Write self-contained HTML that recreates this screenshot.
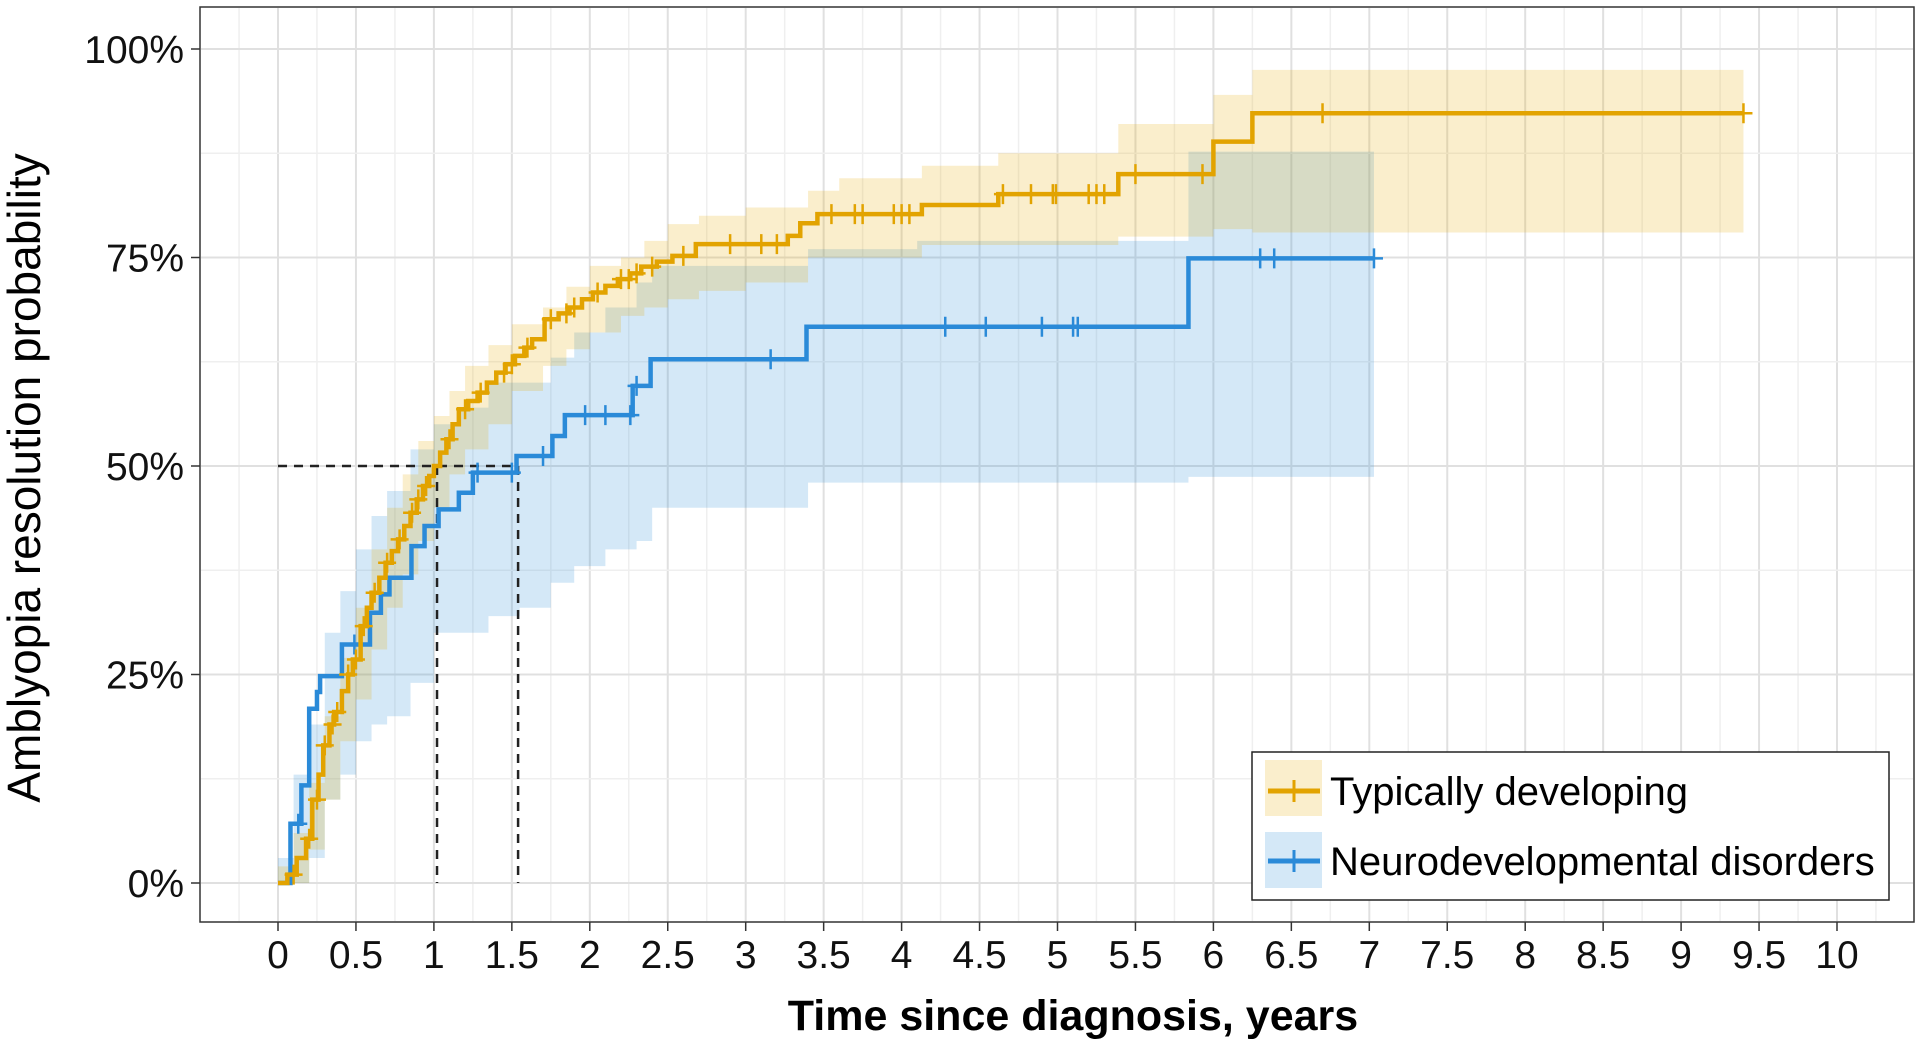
<!DOCTYPE html>
<html><head><meta charset="utf-8">
<style>
html,body{margin:0;padding:0;background:#fff;}
svg{display:block;font-family:"Liberation Sans",Arial,sans-serif;}
</style></head>
<body>
<svg id="chart" width="1920" height="1044" viewBox="0 0 1920 1044" xmlns="http://www.w3.org/2000/svg">
  <rect x="0" y="0" width="1920" height="1044" fill="#fff"/>
  <g id="grid"></g>
  <g id="bands"></g>
  <g id="refs"></g>
  <g id="lines"></g>
  <rect x="200" y="7" width="1714" height="915" fill="none" stroke="#333" stroke-width="1.5"/>
  <g id="axes"></g>
  <text transform="translate(40,478) rotate(-90)" text-anchor="middle" font-size="46" fill="#000">Amblyopia resolution probability</text>
  <text x="1073" y="1030" text-anchor="middle" font-size="43" font-weight="bold" fill="#000">Time since diagnosis, years</text>
  <g id="legend">
    <rect x="1252" y="752" width="637" height="148" fill="#fff" stroke="#222" stroke-width="1.5"/>
    <g>
      <rect x="1265" y="760" width="57" height="56" fill="#E7A800" fill-opacity="0.2"/>
      <line x1="1268" y1="791" x2="1320" y2="791" stroke="#E2A300" stroke-width="5"/>
      <line x1="1294" y1="780" x2="1294" y2="802" stroke="#E2A300" stroke-width="3"/>
      <text x="1330" y="805" font-size="40" fill="#000">Typically developing</text>
    </g>
    <g>
      <rect x="1265" y="832" width="57" height="56" fill="#2A8AD8" fill-opacity="0.2"/>
      <line x1="1268" y1="861" x2="1320" y2="861" stroke="#2A8AD8" stroke-width="5"/>
      <line x1="1294" y1="850" x2="1294" y2="872" stroke="#2A8AD8" stroke-width="3"/>
      <text x="1330" y="875" font-size="40" fill="#000">Neurodevelopmental disorders</text>
    </g>
  </g>
</svg>
<script>
// ---- data ----
const xTicks = [0,0.5,1,1.5,2,2.5,3,3.5,4,4.5,5,5.5,6,6.5,7,7.5,8,8.5,9,9.5,10];
const xTickLabels = ["0","0.5","1","1.5","2","2.5","3","3.5","4","4.5","5","5.5","6","6.5","7","7.5","8","8.5","9","9.5","10"];
const yTicks = [0,0.25,0.5,0.75,1];
const yTickLabels = ["0%","25%","50%","75%","100%"];

// Typically developing: step times and levels
const tdTimes = [0,0.06,0.12,0.18,0.22,0.26,0.29,0.33,0.36,0.41,0.45,0.48,0.53,0.57,0.6,0.65,0.69,0.73,0.77,0.81,0.85,0.89,0.93,0.97,1.0,1.04,1.08,1.12,1.16,1.22,1.28,1.34,1.4,1.46,1.52,1.58,1.63,1.71,1.8,1.87,1.95,2.02,2.1,2.18,2.26,2.33,2.43,2.53,2.68,3.27,3.35,3.46,4.13,4.62,5.39,6.0,6.25,9.4];
const tdSurv  = [0,0.01,0.03,0.053,0.1,0.13,0.165,0.19,0.205,0.23,0.25,0.268,0.308,0.33,0.348,0.366,0.384,0.398,0.412,0.428,0.444,0.46,0.476,0.488,0.5,0.516,0.532,0.55,0.568,0.578,0.588,0.6,0.612,0.622,0.632,0.642,0.652,0.676,0.683,0.69,0.7,0.708,0.716,0.724,0.731,0.739,0.745,0.752,0.766,0.776,0.791,0.802,0.813,0.826,0.85,0.889,0.923,0.923];
const tdCensor = [0.1,0.2,0.25,0.3,0.35,0.38,0.45,0.5,0.55,0.62,0.7,0.78,0.86,0.9,0.95,1.1,1.2,1.3,1.45,1.5,1.6,1.75,1.85,1.9,2.05,2.2,2.25,2.3,2.4,2.6,2.9,3.1,3.2,3.55,3.7,3.75,3.95,4.0,4.05,4.65,4.83,4.97,4.99,5.2,5.25,5.3,5.5,5.93,6.7,9.4];
const tdBandT  = [0,0.1,0.2,0.3,0.4,0.5,0.6,0.7,0.8,0.9,1.0,1.1,1.2,1.35,1.5,1.7,1.85,2.0,2.2,2.35,2.5,2.7,3.0,3.4,3.6,4.13,4.62,5.39,6.0,6.25,9.4];
const tdBandHi = [0.02,0.06,0.12,0.2,0.27,0.33,0.4,0.45,0.49,0.53,0.56,0.59,0.62,0.645,0.67,0.69,0.715,0.74,0.75,0.77,0.79,0.8,0.81,0.83,0.845,0.86,0.875,0.91,0.945,0.975,0.975];
const tdBandLo = [0,0.0,0.04,0.1,0.17,0.22,0.28,0.33,0.37,0.41,0.45,0.49,0.52,0.55,0.59,0.62,0.64,0.66,0.68,0.69,0.7,0.71,0.72,0.75,0.75,0.765,0.765,0.775,0.784,0.78,0.78];

// Neurodevelopmental disorders
const ndTimes = [0,0.08,0.15,0.2,0.25,0.27,0.34,0.41,0.59,0.66,0.715,0.856,0.94,1.03,1.16,1.25,1.53,1.76,1.84,2.275,2.39,3.39,5.84,7.03];
const ndSurv  = [0,0.071,0.117,0.209,0.229,0.248,0.248,0.286,0.324,0.346,0.366,0.404,0.428,0.448,0.468,0.492,0.512,0.536,0.561,0.596,0.628,0.667,0.749,0.749];
const ndCensor = [0.13,0.49,1.28,1.5,1.7,1.97,2.1,2.26,2.3,3.16,4.28,4.54,4.9,5.1,5.13,6.3,6.39,7.03];
const ndBandT  = [0,0.1,0.2,0.3,0.4,0.5,0.6,0.7,0.85,1.0,1.15,1.35,1.55,1.75,1.9,2.1,2.3,2.4,3.4,4.1,5.84,7.03];
const ndBandHi = [0.03,0.13,0.19,0.3,0.35,0.4,0.44,0.47,0.52,0.55,0.57,0.6,0.6,0.63,0.66,0.69,0.72,0.74,0.76,0.77,0.877,0.877];
const ndBandLo = [0,0.0,0.03,0.1,0.13,0.17,0.19,0.2,0.24,0.3,0.3,0.32,0.33,0.36,0.38,0.4,0.41,0.45,0.48,0.48,0.487,0.487];

const medianTD = 1.02, medianND = 1.54;

// ---- scales ----
const X0=278, XS=155.9, Y0=883, YS=834;
function sx(t){return X0+XS*t;}
function sy(p){return Y0-YS*p;}
const NS="http://www.w3.org/2000/svg";
function mk(tag,attrs,parent){const e=document.createElementNS(NS,tag);for(const k in attrs)e.setAttribute(k,attrs[k]);parent.appendChild(e);return e;}

// grid
const grid=document.getElementById('grid');
for(let i=-2;i<=42;i++){const t=i*0.25;const x=sx(t);if(x<201||x>1913)continue;
  const major=(i%2===0);
  const l=mk('line',{x1:x,x2:x,y1:8,y2:921,stroke:major?'#e0e0e0':'#efefef','stroke-width':major?2:1.5},grid);
  
  }
for(let i=-1;i<=8;i++){const p=i*0.125;const y=sy(p);if(y<8||y>921)continue;
  const major=(i%2===0);
  const l=mk('line',{x1:201,x2:1913,y1:y,y2:y,stroke:major?'#e0e0e0':'#efefef','stroke-width':major?2:1.5},grid);
  
  }

// bands
function bandPath(T,H,L){let d='M'+sx(T[0])+','+sy(H[0]);
  for(let i=1;i<T.length;i++){d+=' L'+sx(T[i])+','+sy(H[i-1])+' L'+sx(T[i])+','+sy(H[i]);}
  const n=T.length-1;d+=' L'+sx(T[n])+','+sy(L[n]);
  for(let i=n;i>=1;i--){d+=' L'+sx(T[i])+','+sy(L[i-1])+' L'+sx(T[i-1])+','+sy(L[i-1]);}
  return d+'Z';}
const bands=document.getElementById('bands');
const b1=mk('path',{d:bandPath(ndBandT,ndBandHi,ndBandLo),fill:'#2A8AD8','fill-opacity':0.2},bands);


const b2=mk('path',{d:bandPath(tdBandT,tdBandHi,tdBandLo),fill:'#E7A800','fill-opacity':0.2},bands);



// reference lines
const refs=document.getElementById('refs');
const r1=mk('line',{x1:sx(0),x2:sx(medianND),y1:sy(0.5),y2:sy(0.5),stroke:'#222','stroke-width':2.5,'stroke-dasharray':'9,7'},refs);


const r2=mk('line',{x1:sx(medianTD),x2:sx(medianTD),y1:sy(0.5),y2:sy(0),stroke:'#222','stroke-width':2.5,'stroke-dasharray':'9,7'},refs);


const r3=mk('line',{x1:sx(medianND),x2:sx(medianND),y1:sy(0.5),y2:sy(0),stroke:'#222','stroke-width':2.5,'stroke-dasharray':'9,7'},refs);



// curves
function stepPath(T,S){let d='M'+sx(T[0])+','+sy(S[0]);
  for(let i=1;i<T.length;i++){d+=' L'+sx(T[i])+','+sy(S[i-1])+' L'+sx(T[i])+','+sy(S[i]);}return d;}
function levelAt(T,S,t){let v=S[0];for(let i=0;i<T.length;i++){if(T[i]<=t)v=S[i];}return v;}
const lines=document.getElementById('lines');
function drawSeries(T,S,C,color,name){
  const p=mk('path',{d:stepPath(T,S),fill:'none',stroke:color,'stroke-width':4.5,'stroke-linejoin':'miter'},lines);
  
  
  C.forEach(t=>{const y=sy(levelAt(T,S,t));const x=sx(t);
    const m=mk('path',{d:'M'+(x-9)+','+y+' H'+(x+9)+' M'+x+','+(y-10)+' V'+(y+10),stroke:color,'stroke-width':2.5},lines);
    
    });
}
drawSeries(ndTimes,ndSurv,ndCensor,'#2A8AD8','nd');
drawSeries(tdTimes,tdSurv,tdCensor,'#E2A300','td');

// axes
const axes=document.getElementById('axes');
xTicks.forEach((t,i)=>{const x=sx(t);
  const tk=mk('line',{x1:x,x2:x,y1:922,y2:931,stroke:'#333','stroke-width':1.5},axes);
  
  
  const tx=mk('text',{x:x,y:968,'text-anchor':'middle','font-size':39,fill:'#111'},axes);
  tx.textContent=xTickLabels[i];
  
  });
yTicks.forEach((p,i)=>{const y=sy(p);
  const tk=mk('line',{x1:191,x2:200,y1:y,y2:y,stroke:'#333','stroke-width':1.5},axes);
  
  
  const tx=mk('text',{x:184,y:y+14,'text-anchor':'end','font-size':39,fill:'#111'},axes);
  tx.textContent=yTickLabels[i];
  
  });
</script>
</body></html>
